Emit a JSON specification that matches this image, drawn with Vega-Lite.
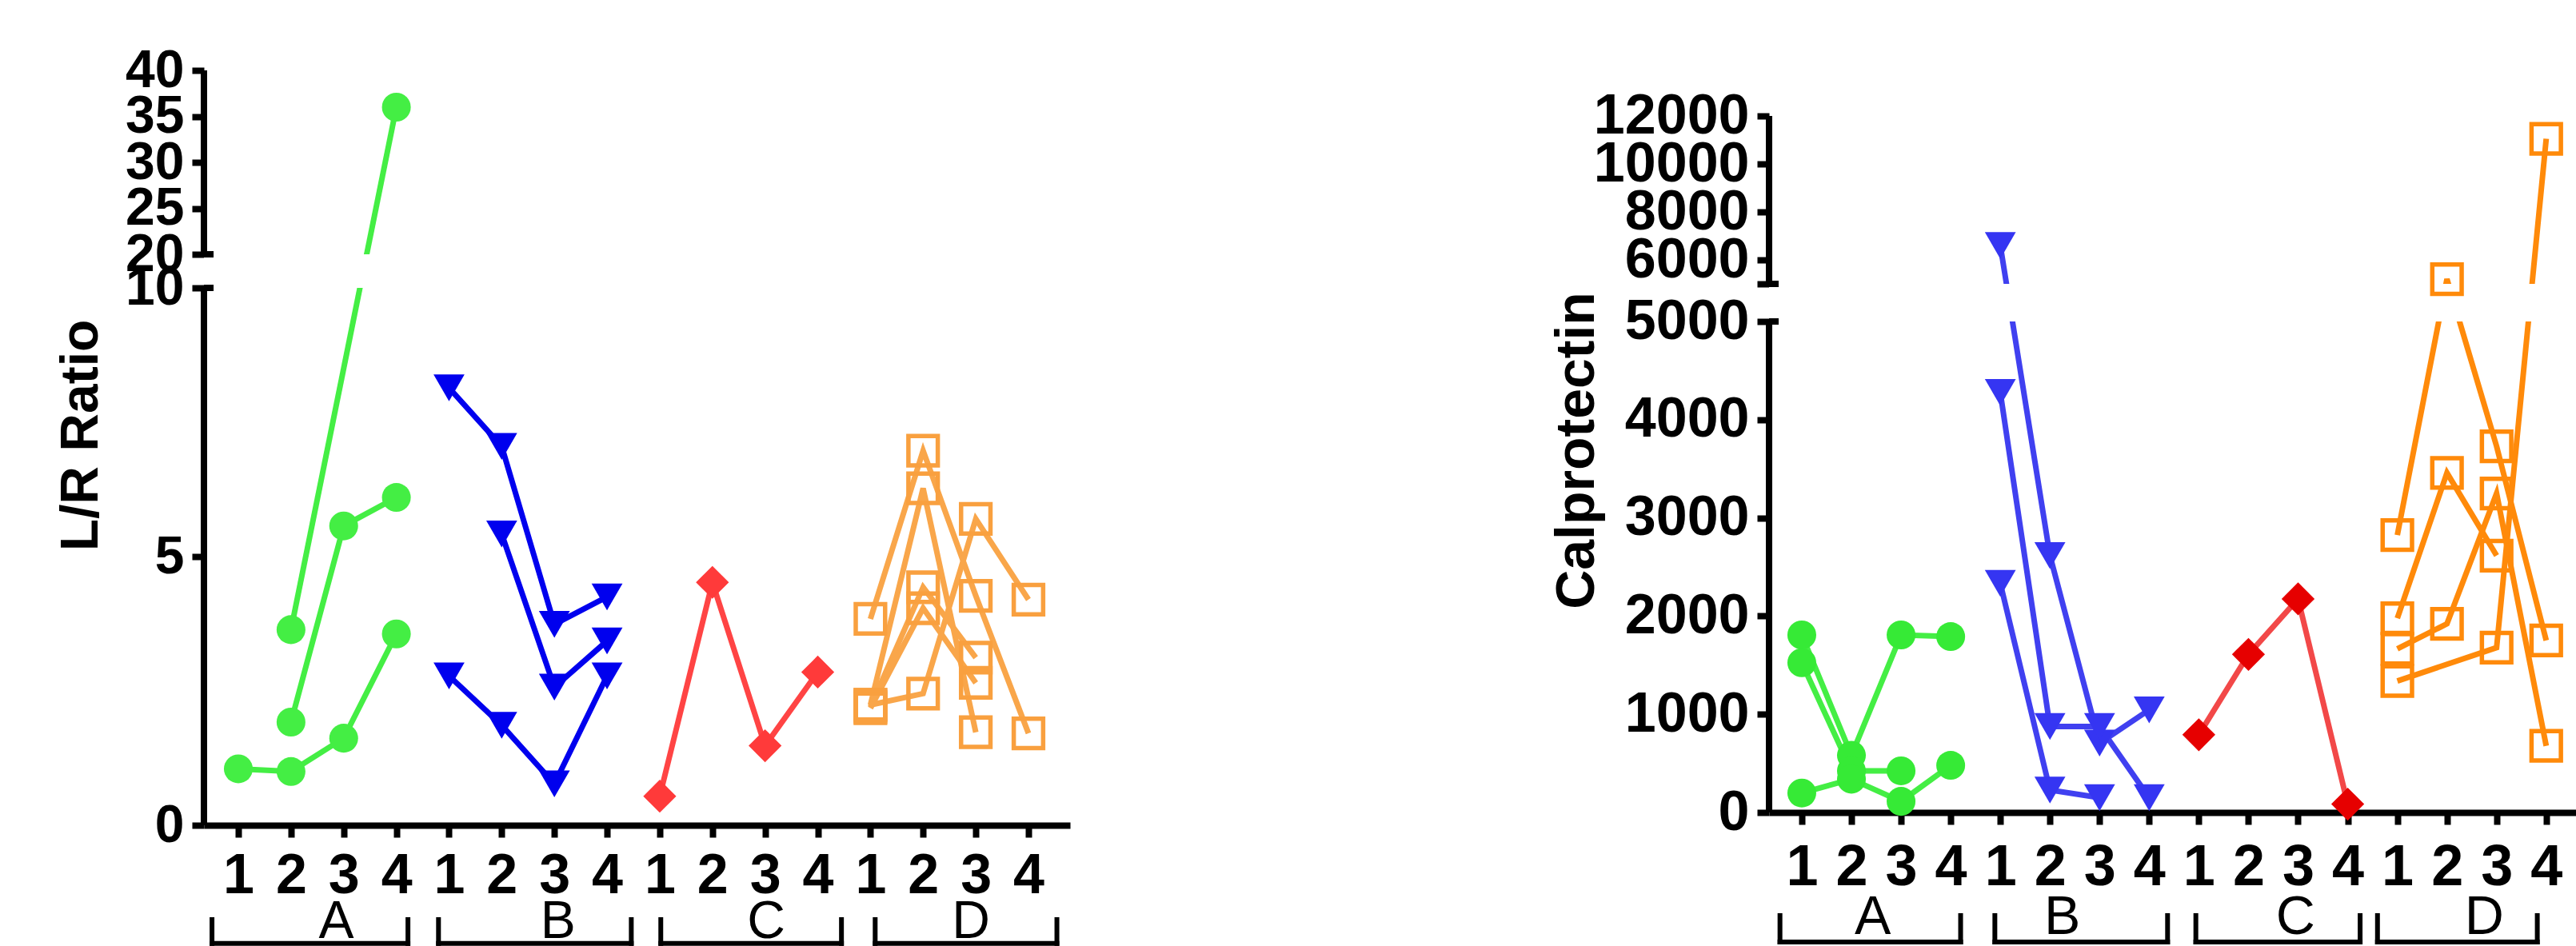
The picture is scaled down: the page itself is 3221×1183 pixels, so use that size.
{
  "$schema": "https://vega.github.io/schema/vega-lite/v6.json",
  "background": "white",
  "padding": {"left": 68, "top": 55, "right": 0, "bottom": 0},
  "bounds": "flush",
  "spacing": 874,
  "resolve": {"scale": {"color": "independent", "shape": "independent", "size": "independent"}},
  "config": {
    "view": {"stroke": null},
    "font": "Liberation Sans",
    "axis": {
      "grid": false, "tickColor": "black", "tickWidth": 8, "tickSize": 15,
      "labelColor": "black", "labelFont": "Liberation Sans", "labelFontWeight": "bold", "labelLimit": 0,
      "titleFont": "Liberation Sans", "titleFontWeight": "bold", "titleColor": "black", "titleLimit": 0,
      "labelOverlap": false, "labelFlush": false, "labelBound": false, "zindex": 1,
      "domainColor": "black", "domainWidth": 8
    },
    "axisY": {"domain": false},
    "axisX": {"domain": true}
  },
  "datasets": {
    "lr": [
      {"group": "A", "subject": "A1", "slot": 1, "value": 1.05},
      {"group": "A", "subject": "A1", "slot": 2, "value": 1.0},
      {"group": "A", "subject": "A1", "slot": 3, "value": 1.62},
      {"group": "A", "subject": "A1", "slot": 4, "value": 3.56},
      {"group": "A", "subject": "A2", "slot": 2, "value": 1.92},
      {"group": "A", "subject": "A2", "slot": 3, "value": 5.57},
      {"group": "A", "subject": "A2", "slot": 4, "value": 6.1},
      {"group": "A", "subject": "A3", "slot": 2, "value": 3.64},
      {"group": "A", "subject": "A3", "slot": 4, "value": 36.0},
      {"group": "B", "subject": "B1", "slot": 5, "value": 8.14},
      {"group": "B", "subject": "B1", "slot": 6, "value": 7.05},
      {"group": "B", "subject": "B1", "slot": 7, "value": 3.74},
      {"group": "B", "subject": "B1", "slot": 8, "value": 4.25},
      {"group": "B", "subject": "B2", "slot": 6, "value": 5.42},
      {"group": "B", "subject": "B2", "slot": 7, "value": 2.57},
      {"group": "B", "subject": "B2", "slot": 8, "value": 3.43},
      {"group": "B", "subject": "B3", "slot": 5, "value": 2.78},
      {"group": "B", "subject": "B3", "slot": 6, "value": 1.86},
      {"group": "B", "subject": "B3", "slot": 7, "value": 0.77},
      {"group": "B", "subject": "B3", "slot": 8, "value": 2.78},
      {"group": "C", "subject": "C1", "slot": 9, "value": 0.54},
      {"group": "C", "subject": "C1", "slot": 10, "value": 4.52},
      {"group": "C", "subject": "C1", "slot": 11, "value": 1.48},
      {"group": "C", "subject": "C1", "slot": 12, "value": 2.85},
      {"group": "D", "subject": "D1", "slot": 13, "value": 3.84},
      {"group": "D", "subject": "D1", "slot": 14, "value": 6.97},
      {"group": "D", "subject": "D1", "slot": 15, "value": 4.27},
      {"group": "D", "subject": "D1", "slot": 16, "value": 1.71},
      {"group": "D", "subject": "D2", "slot": 13, "value": 2.24},
      {"group": "D", "subject": "D2", "slot": 14, "value": 6.27},
      {"group": "D", "subject": "D2", "slot": 15, "value": 1.73},
      {"group": "D", "subject": "D3", "slot": 13, "value": 2.2},
      {"group": "D", "subject": "D3", "slot": 14, "value": 4.43},
      {"group": "D", "subject": "D3", "slot": 15, "value": 3.12},
      {"group": "D", "subject": "D4", "slot": 13, "value": 2.18},
      {"group": "D", "subject": "D4", "slot": 14, "value": 4.04},
      {"group": "D", "subject": "D4", "slot": 15, "value": 2.65},
      {"group": "D", "subject": "D5", "slot": 13, "value": 2.24},
      {"group": "D", "subject": "D5", "slot": 14, "value": 2.45},
      {"group": "D", "subject": "D5", "slot": 15, "value": 5.7},
      {"group": "D", "subject": "D5", "slot": 16, "value": 4.2}
    ],
    "cal": [
      {"group": "A", "subject": "A1", "slot": 1, "value": 1808},
      {"group": "A", "subject": "A1", "slot": 2, "value": 582},
      {"group": "A", "subject": "A1", "slot": 3, "value": 1808},
      {"group": "A", "subject": "A1", "slot": 4, "value": 1791},
      {"group": "A", "subject": "A2", "slot": 1, "value": 1525},
      {"group": "A", "subject": "A2", "slot": 2, "value": 424},
      {"group": "A", "subject": "A2", "slot": 3, "value": 424},
      {"group": "A", "subject": "A3", "slot": 1, "value": 198},
      {"group": "A", "subject": "A3", "slot": 2, "value": 339},
      {"group": "A", "subject": "A3", "slot": 3, "value": 113},
      {"group": "A", "subject": "A3", "slot": 4, "value": 480},
      {"group": "B", "subject": "B1", "slot": 5, "value": 6600},
      {"group": "B", "subject": "B1", "slot": 6, "value": 2616},
      {"group": "B", "subject": "B1", "slot": 7, "value": 706},
      {"group": "B", "subject": "B1", "slot": 8, "value": 1045},
      {"group": "B", "subject": "B2", "slot": 5, "value": 4277},
      {"group": "B", "subject": "B2", "slot": 6, "value": 876},
      {"group": "B", "subject": "B2", "slot": 7, "value": 876},
      {"group": "B", "subject": "B2", "slot": 8, "value": 150},
      {"group": "B", "subject": "B3", "slot": 5, "value": 2333},
      {"group": "B", "subject": "B3", "slot": 6, "value": 228},
      {"group": "B", "subject": "B3", "slot": 7, "value": 150},
      {"group": "C", "subject": "C1", "slot": 9, "value": 791},
      {"group": "C", "subject": "C1", "slot": 10, "value": 1610},
      {"group": "C", "subject": "C1", "slot": 11, "value": 2175},
      {"group": "C", "subject": "C1", "slot": 12, "value": 85},
      {"group": "D", "subject": "D1", "slot": 13, "value": 2825},
      {"group": "D", "subject": "D1", "slot": 14, "value": 5200},
      {"group": "D", "subject": "D1", "slot": 15, "value": 3729},
      {"group": "D", "subject": "D1", "slot": 16, "value": 1751},
      {"group": "D", "subject": "D2", "slot": 13, "value": 1977},
      {"group": "D", "subject": "D2", "slot": 14, "value": 3458},
      {"group": "D", "subject": "D2", "slot": 15, "value": 2616},
      {"group": "D", "subject": "D3", "slot": 13, "value": 1667},
      {"group": "D", "subject": "D3", "slot": 14, "value": 1921},
      {"group": "D", "subject": "D3", "slot": 15, "value": 3249},
      {"group": "D", "subject": "D3", "slot": 16, "value": 678},
      {"group": "D", "subject": "D4", "slot": 13, "value": 1339},
      {"group": "D", "subject": "D4", "slot": 15, "value": 1678},
      {"group": "D", "subject": "D4", "slot": 16, "value": 11050}
    ],
    "brk_lr": [
      {"group": "A", "start": 0.5, "end": 4.22, "mid": 2.86},
      {"group": "B", "start": 4.8, "end": 8.46, "mid": 7.07},
      {"group": "C", "start": 9.02, "end": 12.45, "mid": 11.02},
      {"group": "D", "start": 13.09, "end": 16.54, "mid": 14.91}
    ],
    "brk_cal": [
      {"group": "A", "start": 0.56, "end": 4.2, "mid": 2.43},
      {"group": "B", "start": 4.89, "end": 8.37, "mid": 6.25},
      {"group": "C", "start": 8.94, "end": 12.25, "mid": 10.95},
      {"group": "D", "start": 12.6, "end": 15.82, "mid": 14.75}
    ]
  },
  "hconcat": [
    {
      "width": 1083,
      "height": 944,
      "resolve": {"scale": {"color": "independent"}},
      "layer": [
        {
          "data": {"name": "lr"},
          "mark": {"type": "line", "strokeWidth": 7},
          "encoding": {
            "x": {"field": "slot", "type": "quantitative",
              "scale": {"domain": [0.347, 16.79], "nice": false, "zero": false},
              "axis": {"title": null, "values": [1,2,3,4,5,6,7,8,9,10,11,12,13,14,15,16],
                "labelExpr": "'' + (((datum.value - 1) % 4) + 1)", "labelFontSize": 70, "labelPadding": 14}},
            "y": {"field": "value", "type": "quantitative",
              "scale": {"domain": [0, 10, 20, 40], "range": [944, 272, 230, 0], "nice": false, "zero": false},
              "axis": {"title": "L/R Ratio", "values": [0, 5, 10, 20, 25, 30, 35, 40], "labelFontSize": 66, "labelPadding": 10,
                "titleFontSize": 66, "titleX": -120, "titleY": 456, "titleAngle": 270, "titleBaseline": "bottom", "titleAlign": "center"}},
            "detail": {"field": "subject"},
            "color": {"field": "group", "type": "nominal", "legend": null,
              "scale": {"domain": ["A", "B", "C", "D"], "range": ["#44ee44", "#0000ee", "#ff4444", "#f9a64a"]}}
          }
        },
        {
          "data": {"values": [{}]},
          "mark": {"type": "rect", "color": "white"},
          "encoding": {"x": {"datum": 0.347}, "x2": {"datum": 16.79}, "y": {"datum": 10}, "y2": {"datum": 20}}
        },
        {
          "data": {"name": "lr"},
          "transform": [{"filter": "datum.group != 'D'"}],
          "mark": {"type": "point", "filled": true, "opacity": 1, "strokeWidth": 0},
          "encoding": {
            "x": {"field": "slot", "type": "quantitative"},
            "y": {"field": "value", "type": "quantitative"},
            "shape": {"field": "group", "type": "nominal", "legend": null,
              "scale": {"domain": ["A", "B", "C"], "range": ["circle", "triangle-down", "diamond"]}},
            "size": {"field": "group", "type": "nominal", "legend": null,
              "scale": {"domain": ["A", "B", "C"], "range": [1300, 1700, 1300]}},
            "color": {"field": "group", "type": "nominal", "legend": null,
              "scale": {"domain": ["A", "B", "C"], "range": ["#44ee44", "#0000ee", "#ff3a3a"]}}
          }
        },
        {
          "data": {"name": "lr"},
          "transform": [{"filter": "datum.group == 'D'"}],
          "mark": {"type": "point", "shape": "square", "filled": false, "size": 1350, "strokeWidth": 5.5, "color": "#f9a03f", "opacity": 1},
          "encoding": {
            "x": {"field": "slot", "type": "quantitative"},
            "y": {"field": "value", "type": "quantitative"}
          }
        },
        {
          "data": {"values": [{}]},
          "mark": {"type": "rule", "strokeWidth": 8, "color": "black"},
          "encoding": {"x": {"datum": 0.347}, "y": {"datum": 0}, "y2": {"datum": 10}}
        },
        {
          "data": {"values": [{}]},
          "mark": {"type": "rule", "strokeWidth": 8, "color": "black"},
          "encoding": {"x": {"datum": 0.347}, "y": {"datum": 20}, "y2": {"datum": 40}}
        },
        {
          "data": {"values": [{}]},
          "mark": {"type": "rule", "strokeWidth": 8, "color": "black"},
          "encoding": {"x": {"datum": 0.347}, "x2": {"datum": 0.53}, "y": {"datum": 10}}
        },
        {
          "data": {"values": [{}]},
          "mark": {"type": "rule", "strokeWidth": 8, "color": "black"},
          "encoding": {"x": {"datum": 0.347}, "x2": {"datum": 0.53}, "y": {"datum": 20}}
        },
        {
          "data": {"name": "brk_lr"},
          "mark": {"type": "rule", "strokeWidth": 6, "color": "black", "strokeCap": "square"},
          "encoding": {"x": {"field": "start", "type": "quantitative"}, "x2": {"field": "end"}, "y": {"datum": -2.2}}
        },
        {
          "data": {"name": "brk_lr"},
          "mark": {"type": "rule", "strokeWidth": 6, "color": "black", "strokeCap": "square"},
          "encoding": {"x": {"field": "start", "type": "quantitative"}, "y": {"datum": -1.756}, "y2": {"datum": -2.2}}
        },
        {
          "data": {"name": "brk_lr"},
          "mark": {"type": "rule", "strokeWidth": 6, "color": "black", "strokeCap": "square"},
          "encoding": {"x": {"field": "end", "type": "quantitative"}, "y": {"datum": -1.756}, "y2": {"datum": -2.2}}
        },
        {
          "data": {"name": "brk_lr"},
          "mark": {"type": "text", "fontSize": 66, "font": "Liberation Sans", "baseline": "alphabetic", "align": "center", "color": "black"},
          "encoding": {"x": {"field": "mid", "type": "quantitative"}, "y": {"datum": -2.098}, "text": {"field": "group"}}
        }
      ]
    },
    {
      "width": 1009,
      "height": 928,
      "resolve": {"scale": {"color": "independent"}},
      "layer": [
        {
          "data": {"name": "cal"},
          "mark": {"type": "line", "strokeWidth": 7},
          "encoding": {
            "x": {"field": "slot", "type": "quantitative",
              "scale": {"domain": [0.34, 16.6], "nice": false, "zero": false},
              "axis": {"title": null, "values": [1,2,3,4,5,6,7,8,9,10,11,12,13,14,15,16],
                "labelExpr": "'' + (((datum.value - 1) % 4) + 1)", "labelFontSize": 72, "labelPadding": 18}},
            "y": {"field": "value", "type": "quantitative",
              "scale": {"domain": [0, 5000, 5001, 12000], "range": [928, 314, 267, 57], "nice": false, "zero": false},
              "axis": {"title": "Calprotectin", "values": [0, 1000, 2000, 3000, 4000, 5000, 5001, 6000, 8000, 10000, 12000],
                "format": "d", "labelExpr": "datum.value == 5001 ? '' : datum.label",
                "labelFontSize": 70, "labelPadding": 10,
                "titleFontSize": 68, "titleX": -206, "titleY": 475, "titleAngle": 270, "titleBaseline": "bottom", "titleAlign": "center"}},
            "detail": {"field": "subject"},
            "color": {"field": "group", "type": "nominal", "legend": null,
              "scale": {"domain": ["A", "B", "C", "D"], "range": ["#44ee44", "#4040f0", "#f24848", "#ff8a0a"]}}
          }
        },
        {
          "data": {"values": [{}]},
          "mark": {"type": "rect", "color": "white"},
          "encoding": {"x": {"datum": 0.34}, "x2": {"datum": 16.6}, "y": {"datum": 5000}, "y2": {"datum": 5001}}
        },
        {
          "data": {"name": "cal"},
          "transform": [{"filter": "datum.group != 'D'"}],
          "mark": {"type": "point", "filled": true, "opacity": 1, "strokeWidth": 0},
          "encoding": {
            "x": {"field": "slot", "type": "quantitative"},
            "y": {"field": "value", "type": "quantitative"},
            "shape": {"field": "group", "type": "nominal", "legend": null,
              "scale": {"domain": ["A", "B", "C"], "range": ["circle", "triangle-down", "diamond"]}},
            "size": {"field": "group", "type": "nominal", "legend": null,
              "scale": {"domain": ["A", "B", "C"], "range": [1300, 1700, 1200]}},
            "color": {"field": "group", "type": "nominal", "legend": null,
              "scale": {"domain": ["A", "B", "C"], "range": ["#36ea36", "#3535f2", "#e60000"]}}
          }
        },
        {
          "data": {"name": "cal"},
          "transform": [{"filter": "datum.group == 'D'"}],
          "mark": {"type": "point", "shape": "square", "filled": false, "size": 1350, "strokeWidth": 5.5, "color": "#ff8a0a", "opacity": 1},
          "encoding": {
            "x": {"field": "slot", "type": "quantitative"},
            "y": {"field": "value", "type": "quantitative"}
          }
        },
        {
          "data": {"values": [{}]},
          "mark": {"type": "rule", "strokeWidth": 8, "color": "black"},
          "encoding": {"x": {"datum": 0.34}, "y": {"datum": 0}, "y2": {"datum": 5000}}
        },
        {
          "data": {"values": [{}]},
          "mark": {"type": "rule", "strokeWidth": 8, "color": "black"},
          "encoding": {"x": {"datum": 0.34}, "y": {"datum": 5001}, "y2": {"datum": 12000}}
        },
        {
          "data": {"values": [{}]},
          "mark": {"type": "rule", "strokeWidth": 8, "color": "black"},
          "encoding": {"x": {"datum": 0.34}, "x2": {"datum": 0.533}, "y": {"datum": 5000}}
        },
        {
          "data": {"values": [{}]},
          "mark": {"type": "rule", "strokeWidth": 8, "color": "black"},
          "encoding": {"x": {"datum": 0.34}, "x2": {"datum": 0.533}, "y": {"datum": 5001}}
        },
        {
          "data": {"name": "brk_cal"},
          "mark": {"type": "rule", "strokeWidth": 6, "color": "black", "strokeCap": "square"},
          "encoding": {"x": {"field": "start", "type": "quantitative"}, "x2": {"field": "end"}, "y": {"datum": -1319}}
        },
        {
          "data": {"name": "brk_cal"},
          "mark": {"type": "rule", "strokeWidth": 6, "color": "black", "strokeCap": "square"},
          "encoding": {"x": {"field": "start", "type": "quantitative"}, "y": {"datum": -1050}, "y2": {"datum": -1319}}
        },
        {
          "data": {"name": "brk_cal"},
          "mark": {"type": "rule", "strokeWidth": 6, "color": "black", "strokeCap": "square"},
          "encoding": {"x": {"field": "end", "type": "quantitative"}, "y": {"datum": -1050}, "y2": {"datum": -1319}}
        },
        {
          "data": {"name": "brk_cal"},
          "mark": {"type": "text", "fontSize": 68, "font": "Liberation Sans", "baseline": "alphabetic", "align": "center", "color": "black"},
          "encoding": {"x": {"field": "mid", "type": "quantitative"}, "y": {"datum": -1238}, "text": {"field": "group"}}
        }
      ]
    }
  ]
}
